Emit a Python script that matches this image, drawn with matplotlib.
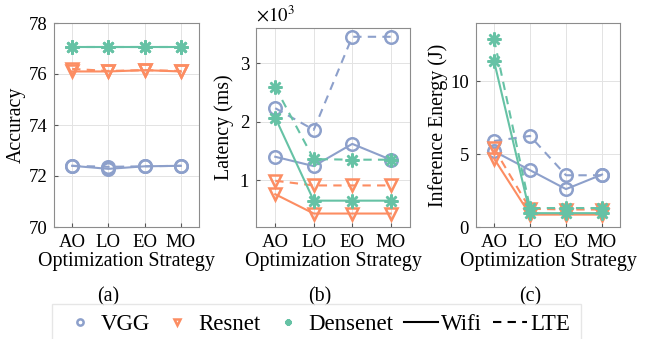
import matplotlib
matplotlib.use('Agg')
import matplotlib.pyplot as plt
from matplotlib.lines import Line2D
from matplotlib.ticker import FuncFormatter

plt.rcParams['font.family'] = ['Liberation Serif', 'DejaVu Serif']
plt.rcParams['mathtext.fontset'] = 'stix'

strategies = ['AO', 'LO', 'EO', 'MO']
models = ['VGG', 'Resnet', 'Densenet']
colors = ['#8da0cb', '#fc8d62', '#66c2a5']
markers = ['o', 'v', (8, 2, 0)]

# accuracy (same model, two networks)
acc_wifi = {'VGG': [72.40, 72.28, 72.38, 72.40],
            'Resnet': [76.10, 76.10, 76.15, 76.10],
            'Densenet': [77.05, 77.05, 77.05, 77.05]}
acc_lte = {'VGG': [72.40, 72.36, 72.38, 72.40],
           'Resnet': [76.20, 76.12, 76.15, 76.12],
           'Densenet': [77.06, 77.06, 77.06, 77.06]}

# latency in ms
lat_wifi = {'VGG': [1400, 1240, 1620, 1350],
            'Resnet': [760, 430, 430, 430],
            'Densenet': [2070, 650, 650, 650]}
lat_lte = {'VGG': [2230, 1860, 3450, 3450],
           'Resnet': [990, 910, 910, 910],
           'Densenet': [2590, 1360, 1350, 1350]}

# inference energy in J
en_wifi = {'VGG': [5.2, 3.9, 2.6, 3.6],
           'Resnet': [4.7, 0.85, 0.85, 0.85],
           'Densenet': [11.4, 0.95, 0.95, 0.95]}
en_lte = {'VGG': [5.9, 6.25, 3.55, 3.55],
          'Resnet': [5.4, 1.25, 1.2, 1.2],
          'Densenet': [12.9, 1.3, 1.3, 1.3]}

fig = plt.figure(figsize=(6.52, 3.39), dpi=100)
W, H = 652, 339
boxes = [(54, 23, 199, 227), (256, 28, 410, 227), (476, 23, 620, 227)]
axes = [fig.add_axes([l / W, 1 - b / H, (r - l) / W, (b - t) / H]) for l, t, r, b in boxes]

x = range(1, 5)
panels = [(acc_wifi, acc_lte), (lat_wifi, lat_lte), (en_wifi, en_lte)]
for ax, (wifi, lte) in zip(axes, panels):
    for m, c, mk in zip(models, colors, markers):
        ms = 10 if mk == markers[2] else 9
        ax.plot(x, wifi[m], '-', color=c, marker=mk, ms=ms, mew=1.8,
                mfc='none', lw=1.5)
        ax.plot(x, lte[m], '--', color=c, marker=mk, ms=ms, mew=1.8,
                mfc='none', lw=1.5, dashes=(4, 3))
    ax.set_xlim(0.5, 4.5)
    ax.set_xticks(list(x))
    ax.set_xticklabels(strategies)
    ax.set_xlabel('Optimization Strategy', fontsize=14.3, labelpad=1)
    ax.grid(True, color='#e3e3e3', lw=0.7)
    ax.set_axisbelow(True)
    ax.tick_params(direction='in', length=3, labelsize=13.5, color='#555555', pad=5)
    for s in ax.spines.values():
        s.set_color('#8c8c8c')
        s.set_linewidth(0.8)

axes[0].set_ylim(70, 78)
axes[0].set_yticks([70, 72, 74, 76, 78])
axes[0].set_ylabel('Accuracy', fontsize=14.3, labelpad=2)

axes[1].set_ylim(200, 3600)
axes[1].set_yticks([1000, 2000, 3000])
axes[1].yaxis.set_major_formatter(FuncFormatter(lambda v, p: '%d' % (v / 1000)))
axes[1].set_ylabel('Latency (ms)', fontsize=14.3, labelpad=4)
axes[1].text(0, 1.01, r'$\times10^3$', transform=axes[1].transAxes,
             ha='left', va='bottom', fontsize=13.5)

axes[2].set_ylim(0, 14)
axes[2].set_yticks([0, 5, 10])
axes[2].set_ylabel('Inference Energy (J)', fontsize=14.3, labelpad=2)

for lbl, cx in zip(['(a)', '(b)', '(c)'], [108, 320, 530]):
    fig.text(cx / W, 1 - 297 / H, lbl, ha='center', va='center', fontsize=14.3)

handles = [Line2D([], [], ls='none', marker=mk, color=c, mfc='none', ms=4.5, mew=1.8)
           for c, mk in zip(colors, markers)]
handles += [Line2D([], [], ls='-', color='black', lw=1.5),
            Line2D([], [], ls='--', color='black', lw=1.5, dashes=(4, 3))]
leg = fig.legend(handles, models + ['Wifi', 'LTE'], ncol=5, loc='upper center',
                 bbox_to_anchor=(316.5 / W, 1 - 304 / H), fontsize=16.5,
                 frameon=True, fancybox=False, handlelength=1.5,
                 handletextpad=0.15, columnspacing=0.45, borderpad=0.45,
                 borderaxespad=0)
leg.get_frame().set_edgecolor('#e0e0e0')
leg.get_frame().set_linewidth(1.0)

fig.savefig('out.png', dpi=100)
